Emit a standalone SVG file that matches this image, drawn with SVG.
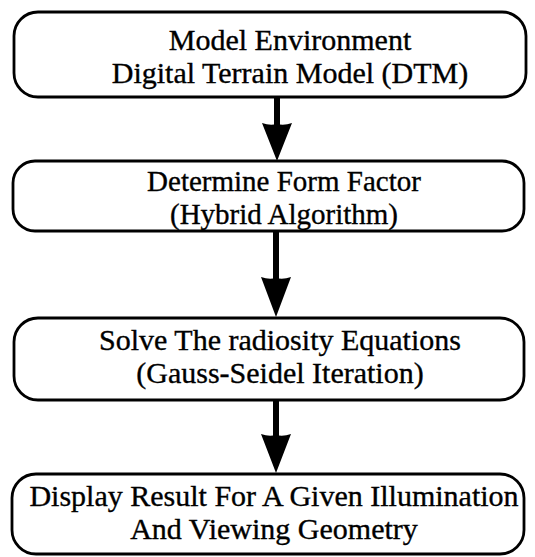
<svg xmlns="http://www.w3.org/2000/svg" width="535" height="557" viewBox="0 0 535 557">
  <style>
    .box { fill: #ffffff; stroke: #000000; stroke-width: 2.8; }
    .label { font-family: "Liberation Serif", "Times New Roman", serif; font-size: 30px; fill: #000000; stroke: #000000; stroke-width: 0.35; text-anchor: middle; }
    .tight { font-size: 29px; }
    .shaft { stroke: #000000; stroke-width: 6; fill: none; }
    .head { fill: #000000; stroke: none; }
  </style>
  <rect width="535" height="557" fill="#ffffff"/>

  <g id="connectors">
    <line class="shaft" x1="277" y1="97" x2="277" y2="128"/>
    <path class="head" d="M262,123 Q270,126 277,124 Q284,126 292,123 L277,161 Z"/>
    <line class="shaft" x1="276" y1="231" x2="276" y2="282"/>
    <path class="head" d="M261,277 Q269,280 276,278 Q283,280 291,277 L276,317 Z"/>
    <line class="shaft" x1="276" y1="400" x2="276" y2="439"/>
    <path class="head" d="M261,434 Q269,437 276,435 Q283,437 291,434 L276,473 Z"/>
  </g>

  <g id="node-model">
    <rect class="box" x="14" y="12" width="512" height="85" rx="24"/>
    <text class="label" x="290" y="50">Model Environment</text>
    <text class="label" x="290" y="83">Digital Terrain Model (DTM)</text>
  </g>

  <g id="node-form-factor">
    <rect class="box" x="13" y="161" width="511" height="70" rx="22"/>
    <text class="label tight" x="284" y="191">Determine Form Factor</text>
    <text class="label tight" x="284" y="224">(Hybrid Algorithm)</text>
  </g>

  <g id="node-solve">
    <rect class="box" x="14" y="318" width="510" height="82" rx="24"/>
    <text class="label" x="280" y="350">Solve The radiosity Equations</text>
    <text class="label" x="280" y="383">(Gauss-Seidel Iteration)</text>
  </g>

  <g id="node-display">
    <rect class="box" x="12" y="474" width="512" height="80" rx="24"/>
    <text class="label" x="274" y="506">Display Result For A Given Illumination</text>
    <text class="label" x="274" y="539">And Viewing Geometry</text>
  </g>
</svg>
